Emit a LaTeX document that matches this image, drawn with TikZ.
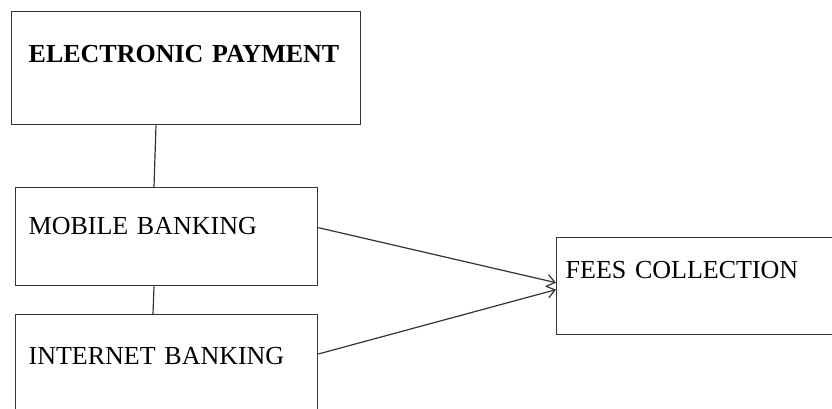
\documentclass[tikz,border=0pt]{standalone}
\usepackage{fontspec}
\setmainfont{Liberation Serif}
\usetikzlibrary{arrows.meta}
\begin{document}
\begin{tikzpicture}[x=0.75pt,y=-0.75pt,
    box/.style={draw=black!80,line width=1pt,rectangle,anchor=north west,
      inner ysep=0pt,align=left,font=\fontsize{19.5}{23}\selectfont},
    link/.style={draw=black!80,line width=0.9pt},
    >={Straight Barb[length=6pt,width=9pt]}]
  \useasboundingbox[fill=white] (0,0) rectangle (832,409);
  \node[box,inner xsep=12.75pt,text width=236.25pt,text height=38.25pt,text depth=46.5pt,
    font=\fontsize{19.5}{23}\selectfont\bfseries] (ep) at (11,11) {ELECTRONIC PAYMENT};
  \node[box,inner xsep=9.75pt,text width=207pt,text height=35.25pt,text depth=38.25pt]
    (mb) at (15,187) {MOBILE BANKING};
  \node[box,inner xsep=9.75pt,text width=207pt,text height=37.5pt,text depth=49.5pt]
    (ib) at (15,314) {INTERNET BANKING};
  \node[box,inner xsep=6.75pt,text width=240pt,text height=30.75pt,text depth=42pt]
    (fc) at (556,237) {FEES COLLECTION};
  \draw[link] ([xshift=108.75pt]ep.south west) -- ([xshift=104.25pt]mb.north west);
  \draw[link] ([xshift=104.25pt]mb.south west) -- ([xshift=103.5pt]ib.north west);
  \draw[link,->] ([yshift=6.75pt]mb.east) -- ([yshift=2.6pt]fc.west);
  \draw[link,->] ([yshift=-30pt]ib.north east) -- ([yshift=-2.6pt]fc.west);
\end{tikzpicture}
\end{document}
